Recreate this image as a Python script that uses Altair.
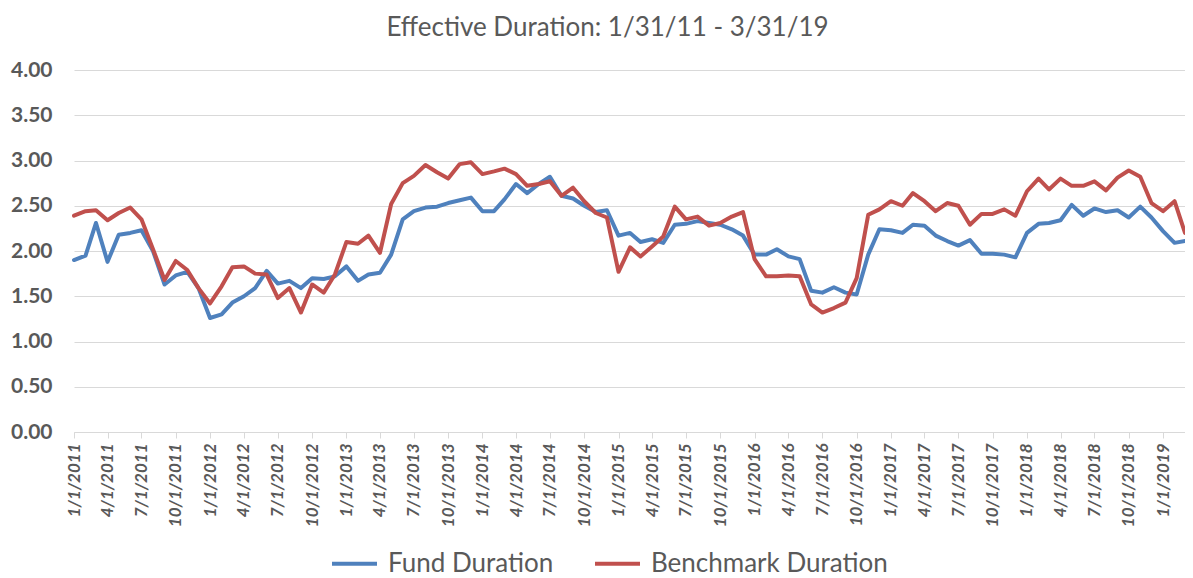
import altair as alt
import pandas as pd

# Monthly observations, Jan 2011 .. Mar 2019 (99 months)
months = pd.date_range("2011-01-01", periods=99, freq="MS").strftime("%Y-%m-%d").tolist()

fund_duration = [
    1.90, 1.95, 2.31, 1.88, 2.18, 2.20, 2.23, 2.00, 1.63, 1.73, 1.77, 1.59,
    1.26, 1.30, 1.43, 1.50, 1.59, 1.78, 1.64, 1.67, 1.59, 1.70, 1.69, 1.72,
    1.83, 1.67, 1.74, 1.76, 1.96, 2.35, 2.44, 2.48, 2.49, 2.53, 2.56, 2.59,
    2.44, 2.44, 2.57, 2.74, 2.64, 2.74, 2.82, 2.61, 2.58, 2.50, 2.43, 2.45,
    2.17, 2.20, 2.10, 2.13, 2.09, 2.29, 2.30, 2.33, 2.31, 2.29, 2.24, 2.17,
    1.96, 1.96, 2.02, 1.94, 1.91, 1.56, 1.54, 1.60, 1.54, 1.52, 1.96, 2.24,
    2.23, 2.20, 2.29, 2.28, 2.17, 2.11, 2.06, 2.12, 1.97, 1.97, 1.96, 1.93,
    2.20, 2.30, 2.31, 2.34, 2.51, 2.39, 2.47, 2.43, 2.45, 2.37, 2.49, 2.37,
    2.22, 2.09, 2.11,
]

benchmark_duration = [
    2.39, 2.44, 2.45, 2.34, 2.42, 2.48, 2.35, 2.02, 1.68, 1.89, 1.79, 1.59,
    1.42, 1.61, 1.82, 1.83, 1.75, 1.74, 1.48, 1.59, 1.32, 1.63, 1.54, 1.74,
    2.10, 2.08, 2.17, 1.98, 2.52, 2.75, 2.83, 2.95, 2.87, 2.80, 2.96, 2.98,
    2.85, 2.88, 2.91, 2.85, 2.72, 2.74, 2.77, 2.61, 2.70, 2.55, 2.42, 2.37,
    1.77, 2.04, 1.94, 2.05, 2.16, 2.49, 2.35, 2.38, 2.28, 2.31, 2.38, 2.43,
    1.91, 1.72, 1.72, 1.73, 1.72, 1.41, 1.32, 1.37, 1.43, 1.70, 2.40, 2.46,
    2.55, 2.50, 2.64, 2.55, 2.44, 2.53, 2.50, 2.29, 2.41, 2.41, 2.46, 2.39,
    2.66, 2.80, 2.68, 2.80, 2.72, 2.72, 2.77, 2.67, 2.81, 2.89, 2.82, 2.53,
    2.44, 2.55, 2.20,
]

series_names = ["Fund Duration", "Benchmark Duration"]
series_colors = ["#4F81BD", "#C0504D"]
y_ticks = [0, 0.5, 1.0, 1.5, 2.0, 2.5, 3.0, 3.5, 4.0]
tick_dates = [alt.DateTime(year=2011 + q // 4, month=(q % 4) * 3 + 1, date=1, utc=True) for q in range(33)]

df = pd.DataFrame({
    "date": months * 2,
    "series": [series_names[0]] * len(months) + [series_names[1]] * len(months),
    "value": fund_duration + benchmark_duration,
})
df["order"] = df["series"].map({series_names[0]: 0, series_names[1]: 1})

GRAY = "#595959"
FONT = "Lato"

chart = alt.Chart(df).mark_line(strokeWidth=4, strokeJoin="round", strokeCap="round").encode(
    x=alt.X(
        "date:T",
        scale=alt.Scale(
            type="utc",
            domain=[alt.DateTime(year=2011, month=1, date=1, utc=True),
                    alt.DateTime(year=2019, month=3, date=1, utc=True)],
        ),
        axis=alt.Axis(
            title=None,
            values=tick_dates,
            format="%-m/%-d/%Y",
            labelAngle=-90,
            labelFont=FONT,
            labelFontSize=17,
            labelFontWeight="bold",
            labelFontStyle="italic",
            labelColor=GRAY,
            labelPadding=5,
            labelOverlap=False,
            labelFlush=False,
            labelBound=False,
            grid=False,
            domainColor="#D9D9D9",
            domainWidth=1,
            tickColor="#D9D9D9",
            tickSize=6,
        ),
    ),
    y=alt.Y(
        "value:Q",
        scale=alt.Scale(domain=[0, 4], nice=False, zero=True),
        axis=alt.Axis(
            title=None,
            values=y_ticks,
            format=".2f",
            labelFont=FONT,
            labelFontSize=21,
            labelFontWeight="bold",
            labelColor=GRAY,
            labelPadding=22,
            domain=False,
            ticks=False,
            gridColor="#D9D9D9",
            gridWidth=1,
        ),
    ),
    color=alt.Color(
        "series:N",
        scale=alt.Scale(domain=series_names, range=series_colors),
        legend=alt.Legend(
            title=None,
            orient="none",
            direction="horizontal",
            legendX=256,
            legendY=469,
            symbolType="stroke",
            symbolSize=2025,
            symbolStrokeWidth=4,
            labelFont=FONT,
            labelFontSize=26,
            labelColor=GRAY,
            labelLimit=0,
            labelOffset=9,
            columnPadding=33,
        ),
    ),
    order="order:Q",
).properties(
    width=1111,
    height=362,
    title=alt.TitleParams(
        "Effective Duration: 1/31/11 - 3/31/19",
        font=FONT,
        fontSize=26,
        fontWeight="normal",
        color=GRAY,
        anchor="middle",
        dx=-22,
        offset=18,
    ),
    autosize=alt.AutoSizeParams(type="none"),
    padding={"left": 66, "top": 62, "right": 0, "bottom": 146},
).configure_view(stroke=None)

chart.save("out.html", embed_options={"renderer": "svg", "actions": False})
